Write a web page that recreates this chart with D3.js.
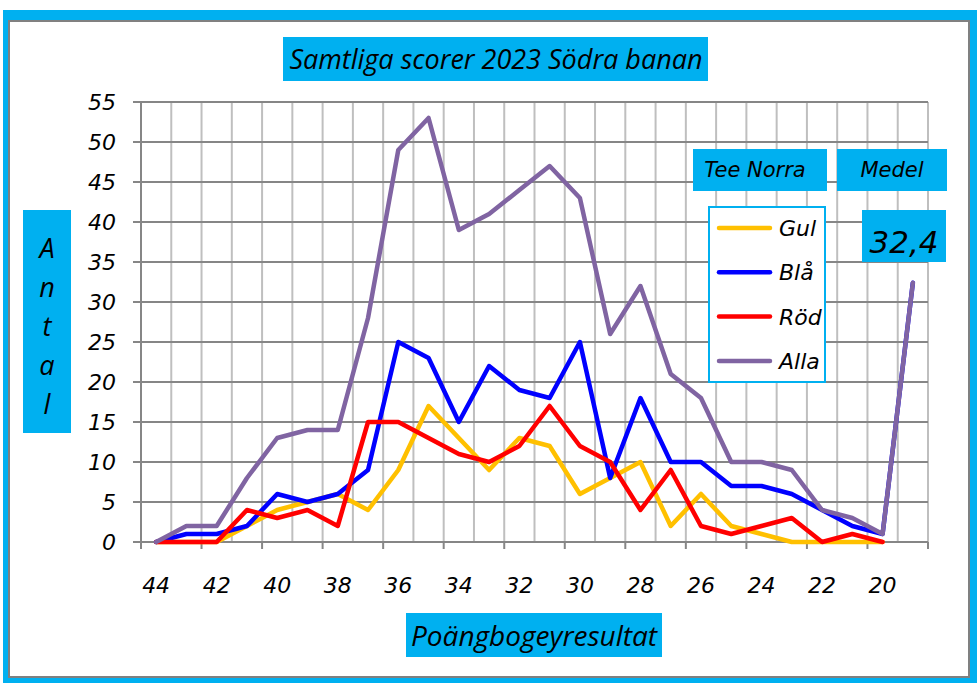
<!DOCTYPE html>
<html lang="sv">
<head>
<meta charset="UTF-8">
<title>Samtliga scorer 2023 Södra banan</title>
<style>
body { margin: 0; background: #fff; }
svg { display: block; }
.lbl { font-family: "DejaVu Sans", sans-serif; font-style: italic; fill: #000; }
.cal { font-family: "Liberation Sans Narrow", "Open Sans", sans-serif; font-style: italic; fill: #000; }
</style>
</head>
<body>
<div id="chart"></div>
<script src="https://d3js.org/d3.v7.min.js"></script>
<script>

// categories (poängbogey), last slot is the average column
var scores = ["44","43","42","41","40","39","38","37","36","35","34","33","32","31","30","29","28","27","26","25","24","23","22","21","20","Medel"];
var tickLabels = ["44","42","40","38","36","34","32","30","28","26","24","22","20"];
var yTicks = [0,5,10,15,20,25,30,35,40,45,50,55];

var gul  = [0,0,0,2,4,5,6,4,9,17,13,9,13,12,6,8,10,2,6,2,1,0,0,0,0];
var bla  = [0,1,1,2,6,5,6,9,25,23,15,22,19,18,25,8,18,10,10,7,7,6,4,2,1,32.4];
var rod  = [0,0,0,4,3,4,2,15,15,13,11,10,12,17,12,10,4,9,2,1,2,3,0,1,0];
var alla = [0,2,2,8,13,14,14,28,49,53,39,41,44,47,43,26,32,21,18,10,10,9,4,3,1,32.4];

var seriesNames = ["Gul","Blå","Röd","Alla"];
var seriesData = [gul, bla, rod, alla];
var colors = ["#FFC000","#0000FF","#FF0000","#8064A2"];
var medel = "32,4";

var W = 977, H = 683;
var svg = d3.select("#chart").append("svg")
  .attr("width", W).attr("height", H);

// frame
svg.append("rect").attr("x", 3).attr("y", 10).attr("width", W - 3).attr("height", H - 10)
  .attr("fill", "#00B0F0");
svg.append("rect").attr("x", 9).attr("y", 21).attr("width", 960).attr("height", 656)
  .attr("fill", "#fff").attr("stroke", "#808080").attr("stroke-width", 2);

var x = d3.scaleBand().domain(scores).range([141, 928]).paddingInner(0).paddingOuter(0);
var y = d3.scaleLinear().domain([0, 55]).range([542, 102]);
var bw = x.bandwidth();
function cx(i) { return x(scores[i]) + bw / 2; }

var g = svg.append("g");

// vertical grid at band edges
var edges = scores.map(function(s) { return x(s); }).concat([x.range()[1]]);
g.selectAll(".vg").data(edges.slice(1)).enter().append("line")
  .attr("x1", function(d) { return d; }).attr("x2", function(d) { return d; })
  .attr("y1", y(55)).attr("y2", y(0))
  .attr("stroke", "#BFBFBF").attr("stroke-width", 2);

// horizontal grid
g.selectAll(".hg").data(yTicks).enter().append("line")
  .attr("x1", 133).attr("x2", 928)
  .attr("y1", function(d) { return y(d); }).attr("y2", function(d) { return y(d); })
  .attr("stroke", "#868686").attr("stroke-width", 2);

// axes lines
g.append("line").attr("x1", 141).attr("x2", 141).attr("y1", y(55)).attr("y2", y(0))
  .attr("stroke", "#868686").attr("stroke-width", 2);
g.selectAll(".xt").data(edges.filter(function(d, i) { return i % 2 === 0; })).enter().append("line")
  .attr("x1", function(d) { return d; }).attr("x2", function(d) { return d; })
  .attr("y1", y(0)).attr("y2", y(0) + 7)
  .attr("stroke", "#868686").attr("stroke-width", 2);

// y tick labels
g.selectAll(".yl").data(yTicks).enter().append("text")
  .attr("class", "lbl")
  .attr("x", 116).attr("y", function(d) { return y(d); })
  .attr("dy", "0.36em").attr("text-anchor", "end")
  .style("font-size", "22px")
  .text(function(d) { return d; });

// x tick labels
g.selectAll(".xl").data(tickLabels).enter().append("text")
  .attr("class", "lbl")
  .attr("x", function(d) { return x(d) + bw / 2; }).attr("y", 593)
  .attr("text-anchor", "middle")
  .style("font-size", "22px")
  .text(function(d) { return d; });

// lines
var line = d3.line()
  .x(function(d, i) { return cx(i); })
  .y(function(d) { return y(d); });

svg.selectAll(".series").data(seriesData).enter().append("path")
  .attr("d", function(d) { return line(d); })
  .attr("fill", "none")
  .attr("stroke", function(d, i) { return colors[i]; })
  .attr("stroke-width", 4.5)
  .attr("stroke-linejoin", "round")
  .attr("stroke-linecap", "round");

// title
function box(x0, y0, w, h) {
  svg.append("rect").attr("x", x0).attr("y", y0).attr("width", w).attr("height", h).attr("fill", "#00B0F0");
}
box(283, 37, 425, 44);
svg.append("text").attr("class", "cal").attr("x", 496).attr("y", 69)
  .attr("text-anchor", "middle").style("font-size", "27px")
  .text("Samtliga scorer 2023 Södra banan");

// y axis title
box(23, 210, 48, 223);
var antal = "Antal".split("");
svg.selectAll(".ya").data(antal).enter().append("text")
  .attr("class", "cal")
  .attr("x", 47).attr("y", function(d, i) { return 258 + i * 39; })
  .attr("text-anchor", "middle").style("font-size", "27px")
  .text(function(d) { return d; });

// x axis title
box(406, 613, 256, 44);
svg.append("text").attr("class", "cal").attr("x", 534).attr("y", 646)
  .attr("text-anchor", "middle").style("font-size", "28px")
  .text("Poängbogeyresultat");

// legend header boxes
box(693, 149, 134, 42);
svg.append("text").attr("class", "lbl").attr("x", 755).attr("y", 177)
  .attr("text-anchor", "middle").style("font-size", "21px").text("Tee Norra");
box(837, 149, 110, 42);
svg.append("text").attr("class", "lbl").attr("x", 892).attr("y", 177)
  .attr("text-anchor", "middle").style("font-size", "21px").text("Medel");
box(862, 210, 84, 52);
svg.append("text").attr("class", "lbl").attr("x", 904).attr("y", 253)
  .attr("text-anchor", "middle").style("font-size", "31px").text(medel);

// legend
svg.append("rect").attr("x", 709).attr("y", 207).attr("width", 116).attr("height", 175)
  .attr("fill", "#fff").attr("stroke", "#00B0F0").attr("stroke-width", 2);
var leg = svg.selectAll(".leg").data(seriesNames).enter().append("g")
  .attr("transform", function(d, i) { return "translate(0," + (228 + i * 44.3) + ")"; });
leg.append("line").attr("x1", 719).attr("x2", 770).attr("y1", 0).attr("y2", 0)
  .attr("stroke", function(d, i) { return colors[i]; })
  .attr("stroke-width", 4.5).attr("stroke-linecap", "round");
leg.append("text").attr("class", "lbl").attr("x", 779).attr("y", 0).attr("dy", "0.36em")
  .style("font-size", "22px").text(function(d) { return d; });

</script>
</body>
</html>
